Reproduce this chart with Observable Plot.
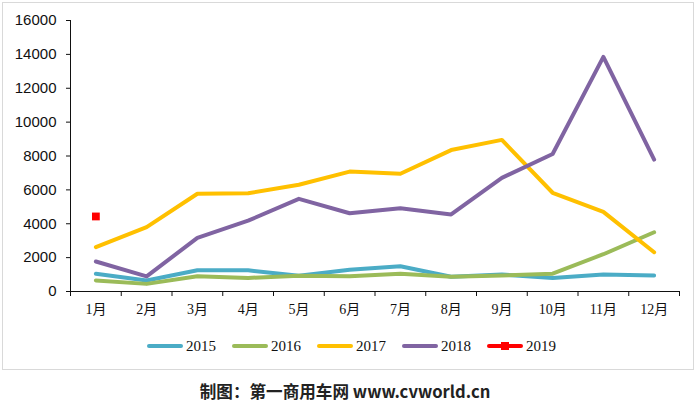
<!DOCTYPE html>
<html>
<head>
<meta charset="utf-8">
<script src="https://cdn.jsdelivr.net/npm/d3@7"></script>
<script src="https://cdn.jsdelivr.net/npm/@observablehq/plot@0.6"></script>
<style>
  body { margin: 0; background: #fff; }
  #wrap { position: relative; width: 700px; height: 402px; overflow: hidden; background: #fff; }
  #frame { position: absolute; left: 2px; top: 2px; width: 690px; height: 366px; border: 1px solid #d9d9d9; }
  #chart { position: absolute; left: 0; top: 0; }
  #legend { position: absolute; left: 0; top: 336px; width: 703px; display: flex; justify-content: center; gap: 16px;
            font-family: 'Liberation Serif', 'Noto Sans CJK SC', serif; font-size: 15px; color: #111; }
  .item { display: flex; align-items: center; gap: 3px; height: 20px; }
  .sw { position: relative; width: 36px; height: 4px; border-radius: 2px; }
  .sq { position: absolute; left: 14px; top: -2px; width: 8px; height: 8px; }
  #caption { position: absolute; left: 0; top: 379px; width: 690px; text-align: center;
             font-family: 'Noto Sans CJK SC', 'Liberation Sans', sans-serif; font-weight: bold; font-size: 16.6px; color: #222; }
</style>
</head>
<body>
<div id="wrap">
  <div id="frame"></div>
  <div id="chart"></div>
  <div id="legend"></div>
  <div id="caption">制图：第一商用车网 www.cvworld.cn</div>
</div>
<script>
const months = ["1月","2月","3月","4月","5月","6月","7月","8月","9月","10月","11月","12月"];
const years = ["2015","2016","2017","2018","2019"];
const colors = ["#4BACC6","#9BBB59","#FFC000","#8064A2","#FF0000"];
const s2015 = [1050,650,1250,1250,930,1280,1490,870,1000,800,1000,950];
const s2016 = [650,450,900,800,930,900,1050,870,950,1050,2200,3500];
const s2017 = [2620,3800,5770,5800,6300,7080,6950,8350,8950,5830,4700,2320];
const s2018 = [1770,890,3170,4180,5470,4620,4920,4550,6710,8120,13850,7790];
const s2019 = [4430];
const yTicks = [0,2000,4000,6000,8000,10000,12000,14000,16000];

const lineSeries = [s2015, s2016, s2017, s2018];
const lineData = lineSeries.flatMap((s, k) => s.map((v, i) => ({x: i + 1, y: v, year: years[k]})));
const dotData = s2019.map((v, i) => ({x: i + 1, y: v, year: years[4]}));
const monthData = months.map((m, i) => ({x: i + 1, label: m}));
const bounds = d3.range(0, months.length + 1).map(i => i + 0.5);

const plot = Plot.plot({
  width: 700,
  height: 325,
  marginTop: 20,
  marginBottom: 34,
  marginLeft: 70,
  marginRight: 21,
  style: {fontFamily: "'Liberation Sans', Arial, sans-serif", fontSize: "15px", color: "#111", background: "transparent"},
  x: {type: "linear", domain: [0.5, 12.5], ticks: bounds, tickFormat: () => "", tickSize: 5, line: true, label: null},
  y: {domain: [0, 16000], ticks: yTicks, tickSize: 4, tickPadding: 10, line: true, label: null, tickFormat: d => String(d)},
  color: {domain: years, range: colors},
  marks: [
    Plot.line(lineData, {x: "x", y: "y", z: "year", stroke: "year", strokeWidth: 4, strokeLinejoin: "round"}),
    Plot.dot(dotData, {x: "x", y: "y", symbol: "square", fill: "year", r: 4.4}),
    Plot.text(monthData, {x: "x", y: () => 0, text: "label", dy: 18, fontFamily: "'Liberation Serif', 'Noto Sans CJK SC', serif", fontSize: 14, fill: "#111"})
  ]
});
document.getElementById("chart").appendChild(plot);

const legend = document.getElementById("legend");
years.forEach((yr, k) => {
  const it = document.createElement("div");
  it.className = "item";
  const sw = document.createElement("div");
  sw.className = "sw";
  sw.style.background = colors[k];
  if (k === 4) {
    const sq = document.createElement("div");
    sq.className = "sq";
    sq.style.background = colors[k];
    sw.appendChild(sq);
  }
  const tx = document.createElement("span");
  tx.textContent = yr;
  it.appendChild(sw);
  it.appendChild(tx);
  legend.appendChild(it);
});
</script>
</body>
</html>
